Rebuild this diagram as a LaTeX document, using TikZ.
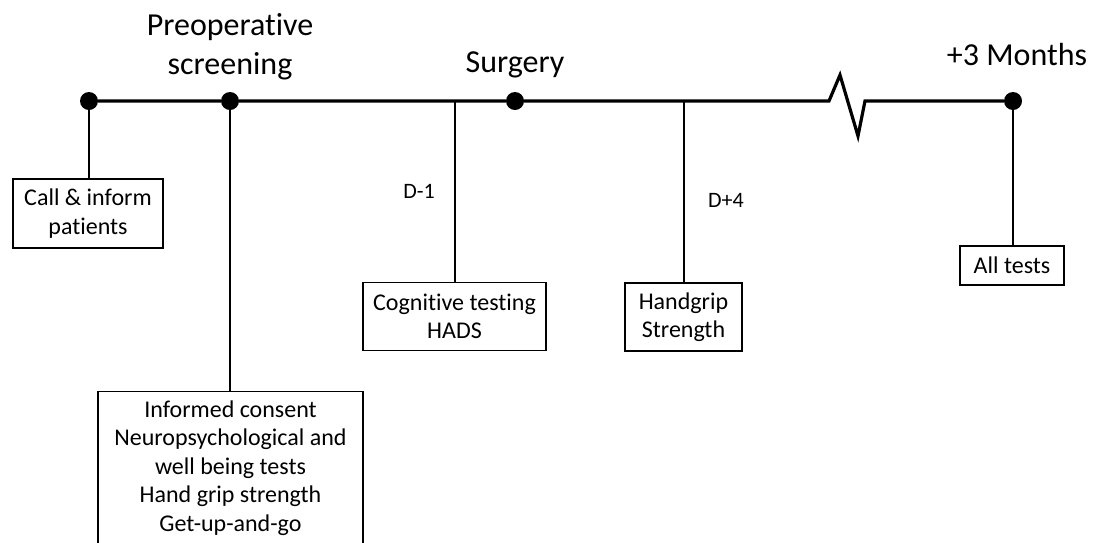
\documentclass[tikz,border=0pt]{standalone}
\usepackage{fontspec}
\setmainfont{Carlito}[Ligatures=NoCommon]
\usetikzlibrary{positioning}

\begin{document}
\begin{tikzpicture}
[x=1pt,y=-1pt,
  lineDecorate/.style={-,line width=3.2pt},%
  dotDecorate/.style={shape=circle,fill=black,inner sep=0pt,minimum size=18pt},
  boxDecorate/.style={draw,line width=1.2pt,align=center,inner sep=0pt,
    font=\fontsize{24}{28.5}\selectfont},
  headDecorate/.style={align=center,inner sep=0pt,font=\fontsize{32}{39}\selectfont},
  dayDecorate/.style={inner sep=0pt,anchor=base,font=\fontsize{22}{26}\selectfont}]
\clip (0,0) rectangle (1104,542);
\useasboundingbox (0,0) rectangle (1104,542);
%% points on the time line
\foreach \nodename/\x in {call/89, screen/230, surgery/515, months/1013}
{
  \node (\nodename) at (\x,101) [dotDecorate] {};
}
\coordinate (dminus) at (455,101);
\coordinate (dplus) at (684,101);
\coordinate (breakA) at (829,101);
\coordinate (breakB) at (840,75);
\coordinate (breakC) at (858,136);
\coordinate (breakD) at (865,101);
%% boxes
\node (callbox) at (88,213.5) [boxDecorate,minimum width=150pt,minimum height=69pt]
  {Call \& inform\\patients};
\node (screenbox) at (230.5,391) [boxDecorate,anchor=north,minimum width=265pt,inner ysep=9pt]
  {Informed consent\\Neuropsychological and\\well being tests\\Hand grip strength\\Get-up-and-go};
\node (cogbox) at (454.5,316.5) [boxDecorate,minimum width=183pt,minimum height=68pt]
  {Cognitive testing\\HADS};
\node (gripbox) at (683.5,317) [boxDecorate,minimum width=117pt,minimum height=68pt]
  {Handgrip\\Strength};
\node (allbox) at (1012,265.5) [boxDecorate,minimum width=104pt,minimum height=39pt]
  {All tests};
%% labels
\node (screenlabel) at (230,47) [headDecorate] {Preoperative\\screening};
\node (surgerylabel) at (515,72) [headDecorate,anchor=base] {Surgery};
\node (monthslabel) at (1017,65) [headDecorate,anchor=base] {+3 Months};
\node (dminuslabel) at (419,198) [dayDecorate] {D-1};
\node (dpluslabel) at (726,207) [dayDecorate] {D+4};
%% time line
\draw[lineDecorate] (call) -- (screen) -- (surgery) -- (breakA) -- (breakB)
  -- (breakC) -- (breakD) -- (months);
%% connectors
\path
\foreach \startnode/\endnode in {call/callbox, screen/screenbox, dminus/cogbox,
  dplus/gripbox, months/allbox}
{
  (\startnode) edge[lineDecorate,line width=2.8pt] (\startnode |- \endnode.north)
};
\end{tikzpicture}
\end{document}
